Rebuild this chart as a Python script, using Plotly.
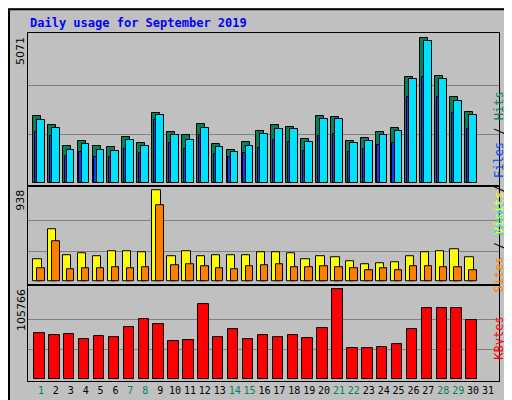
"""Webalizer-style daily usage chart for September 2019"""

import plotly.graph_objects as go
from plotly.subplots import make_subplots

## Data

days = list(range(1, 31))
weekend_days = [1, 7, 8, 14, 15, 21, 22, 28, 29]

hits = [2312, 2001, 1276, 1449, 1276, 1242, 1587, 1380, 2449, 1759,
        1656, 2035, 1345, 1138, 1414, 1794, 2001, 1932, 1518, 2311,
        2277, 1449, 1552, 1759, 1897, 3691, 5071, 3726, 3001, 2484]
pages = [2173, 1897, 1138, 1345, 1138, 1104, 1483, 1276, 2346, 1656,
         1483, 1897, 1242, 1069, 1276, 1690, 1863, 1863, 1414, 2208,
         2208, 1380, 1449, 1656, 1794, 3622, 4967, 3622, 2863, 2380]
files = [1759, 1621, 931, 1069, 897, 897, 1173, 1035, 2173, 1380,
         1173, 1656, 1000, 897, 1035, 1207, 1483, 1414, 1104, 1621,
         1690, 1069, 1173, 1311, 1380, 3001, 3691, 3001, 2449, 1863]
visits = [224, 541, 275, 286, 265, 316, 316, 306, 938, 265,
          316, 265, 275, 275, 275, 296, 306, 286, 224, 265,
          245, 204, 173, 184, 194, 265, 296, 316, 337, 245]
sites = [133, 418, 122, 133, 133, 143, 133, 143, 785, 163,
         173, 153, 133, 122, 153, 163, 173, 143, 143, 153,
         143, 133, 112, 133, 112, 153, 153, 143, 143, 112]
kbytes = [54623, 52299, 53461, 47650, 51137, 49975, 61597, 70894, 65083, 45326,
          46488, 88327, 49975, 59272, 47650, 52299, 49975, 52299, 48812, 60435,
          105766, 37190, 37190, 38353, 41839, 59272, 83678, 83678, 83678, 69732]

max_hits = 5071
max_visits = 938
max_kbytes = 105766

## Figure

fig = make_subplots(rows=3, cols=1, shared_xaxes=True, vertical_spacing=0)
line = dict(color="black", width=1)

fig.add_bar(x=days, y=hits, offset=-0.54, width=0.54, marker_color="#00805C", marker_line=line, row=1, col=1)
fig.add_bar(x=days, y=files, offset=-0.42, width=0.17, marker_color="#0040FF", marker_line=line, row=1, col=1)
fig.add_bar(x=days, y=pages, offset=-0.27, width=0.52, marker_color="#00E0FF", marker_line=line, row=1, col=1)
fig.add_bar(x=days, y=visits, offset=-0.52, width=0.56, marker_color="#FFFF00", marker_line=line, row=2, col=1)
fig.add_bar(x=days, y=sites, offset=-0.25, width=0.5, marker_color="#FF8000", marker_line=line, row=2, col=1)
fig.add_bar(x=days, y=kbytes, offset=-0.45, width=0.7, marker_color="#FF0000", marker_line=line, row=3, col=1)

ticktext = []
for d in range(1, 32):
    c = "#00805C" if d in weekend_days else "black"
    ticktext.append("<span style='color:%s'>%d</span>" % (c, d))

for r in (1, 2, 3):
    fig.update_xaxes(range=[0.13, 31.74], showgrid=False, showline=True, linecolor="black",
                     mirror=True, ticks="", showticklabels=(r == 3), row=r, col=1)
fig.update_xaxes(tickvals=list(range(1, 32)), ticktext=ticktext, tickangle=0,
                 tickfont=dict(family="DejaVu Sans Mono", size=10), row=3, col=1)

grid = dict(showgrid=True, gridcolor="#808080", gridwidth=1, showticklabels=False,
            zeroline=False, showline=True, linecolor="black", mirror=True, ticks="")
fig.update_yaxes(range=[-128, 5230], tickvals=[max_hits / 3, max_hits * 2 / 3], domain=[0.5597, 1], row=1, col=1, **grid)
fig.update_yaxes(range=[-38, 982], tickvals=[max_visits / 3, max_visits * 2 / 3], domain=[0.2756, 0.5597], row=2, col=1, **grid)
fig.update_yaxes(range=[-1976, 110765], tickvals=[max_kbytes / 3, max_kbytes * 2 / 3], domain=[0, 0.2756], row=3, col=1, **grid)

def py(p):
    return (377 - p) / 352

def px(p):
    return (p - 20) / 471

ann = dict(xref="paper", yref="paper", showarrow=False)
fig.add_annotation(x=px(20), y=py(15), text="<b>Daily usage for September 2019</b>", xanchor="left", yanchor="middle",
                   font=dict(family="DejaVu Sans Mono", size=12, color="#0000FF"), **ann)
for label, top in [(max_hits, 27), (max_visits, 182), (max_kbytes, 282)]:
    fig.add_annotation(x=px(13), y=py(top), text=str(label), textangle=-90, xanchor="center", yanchor="top",
                       font=dict(family="DejaVu Sans", size=11, color="black"), **ann)

fig.add_annotation(x=px(500), y=py(82), textangle=-90,
                   text="<span style='color:#00E0FF'>Pages</span> / <span style='color:#0040FF'>Files</span> / <span style='color:#00805C'>Hits</span>",
                   font=dict(family="DejaVu Sans Mono", size=12, color="black"), **ann)
fig.add_annotation(x=px(500), y=py(237), textangle=-90,
                   text="<span style='color:#FF8000'>Sites</span> / <span style='color:#FFFF00'>Visits</span>",
                   font=dict(family="DejaVu Sans Mono", size=12, color="black"), **ann)
fig.add_annotation(x=px(500), y=py(358), textangle=-90,
                   text="<span style='color:#FF0000'>KBytes</span>",
                   font=dict(family="DejaVu Sans Mono", size=12, color="black"), **ann)

# outer border
fig.add_shape(type="rect", xref="paper", yref="paper", x0=px(1), x1=px(510), y0=py(398), y1=py(1),
              line=dict(color="black", width=2), layer="below")

fig.update_layout(width=512, height=400, margin=dict(l=20, r=21, t=25, b=23),
                  paper_bgcolor="#C0C0C0", plot_bgcolor="#C0C0C0", barmode="overlay",
                  showlegend=False, bargap=0)
fig.write_html("out.html")
